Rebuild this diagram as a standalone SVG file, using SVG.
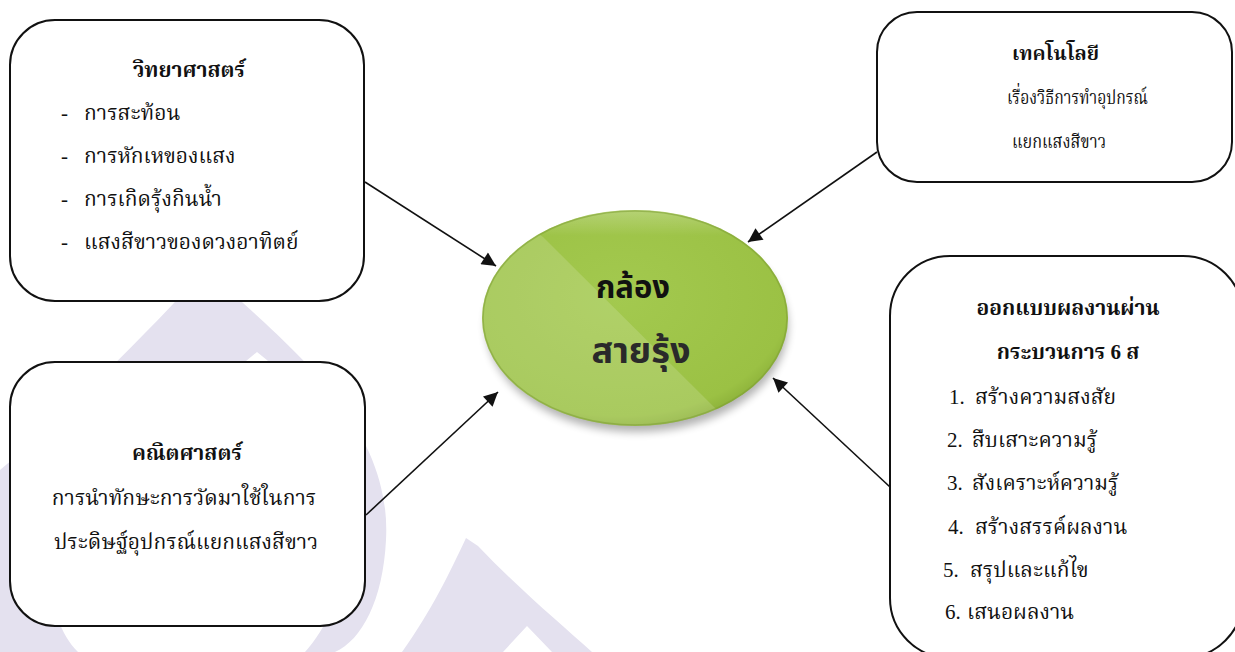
<svg xmlns="http://www.w3.org/2000/svg" width="1235" height="652" viewBox="0 0 1235 652">
<defs>
<style>
.box{fill:#fff;stroke:#111;stroke-width:2}
.t{font-family:"Liberation Serif","Noto Serif Thai","Noto Sans Thai",serif;font-size:21px;fill:#111}
.s{font-size:20px}
.b{font-weight:bold}
.c{text-anchor:middle}
.big{font-family:"Noto Sans Thai","Liberation Sans",sans-serif;font-weight:bold;text-anchor:middle}
.wm{fill:#e4e1ef;fill-rule:evenodd}
.con{stroke:#111;stroke-width:1.6;fill:none;marker-end:url(#ah)}
</style>
<marker id="ah" viewBox="0 0 10 10" refX="10" refY="5" markerUnits="userSpaceOnUse" markerWidth="16" markerHeight="14" orient="auto">
<path d="M0,0 L10,5 L0,10 Z" fill="#111"/>
</marker>
<radialGradient id="eg" cx="0.45" cy="0.4" r="0.65">
<stop offset="0" stop-color="#a3c94f"/>
<stop offset="0.85" stop-color="#9bc144"/>
<stop offset="1" stop-color="#86aa35"/>
</radialGradient>
<linearGradient id="hl" x1="0" y1="0" x2="0" y2="1">
<stop offset="0" stop-color="#fff" stop-opacity="0.25"/>
<stop offset="0.12" stop-color="#fff" stop-opacity="0"/>
</linearGradient>
<clipPath id="ec"><ellipse cx="635" cy="318" rx="153" ry="108"/></clipPath>
<filter id="sh" x="-20%" y="-20%" width="140%" height="150%">
<feGaussianBlur stdDeviation="4"/>
</filter>
</defs>
<rect width="1235" height="652" fill="#fff"/>
<g id="watermark">
<path class="wm" d="M203 272 L222 284 C300 355 392 430 386 540 C383 600 362 640 335 652 L0 652 L0 470 C60 420 150 330 203 272 Z M257 352 C318 400 354 460 350 535 C346 590 325 630 305 652 L78 652 C48 622 42 560 66 522 C120 455 200 400 257 352 Z"/>
<path class="wm" d="M466 538 L478 546 C520 590 562 625 592 652 L402 652 C432 610 450 572 466 538 Z M527 626 L552 652 L503 652 Z"/>
</g>
<g id="connectors">
<line class="con" x1="365" y1="182" x2="496" y2="266"/>
<line class="con" x1="366" y1="515" x2="498" y2="392"/>
<line class="con" x1="877" y1="152" x2="748" y2="242"/>
<line class="con" x1="890" y1="487" x2="773" y2="378"/>
</g>
<g id="center">
<ellipse cx="637" cy="326" rx="151" ry="106" fill="#000" opacity="0.3" filter="url(#sh)"/>
<ellipse cx="635" cy="318" rx="153" ry="108" fill="url(#eg)"/>
<polygon points="400,130 543,237 717,410 720,460 400,460" fill="#fff" opacity="0.15" clip-path="url(#ec)"/>
<ellipse cx="635" cy="318" rx="153" ry="108" fill="url(#hl)"/>
<ellipse cx="635" cy="318" rx="152" ry="107" fill="none" stroke="#7e9f34" stroke-width="1.5" opacity="0.55"/>
<text class="big" x="633" y="298" font-size="31" fill="#111">กล้อง</text>
<text class="big" x="641" y="363" font-size="36" fill="#2a2a2a">สายรุ้ง</text>
</g>
<g id="science">
<rect class="box" x="10" y="20" width="354" height="281" rx="45"/>
<text class="t b c" x="189" y="77">วิทยาศาสตร์</text>
<text class="t" x="61" y="120">-</text><text class="t" x="84" y="120">การสะท้อน</text>
<text class="t" x="61" y="163">-</text><text class="t" x="84" y="163">การหักเหของแสง</text>
<text class="t" x="61" y="206">-</text><text class="t" x="84" y="206">การเกิดรุ้งกินน้ำ</text>
<text class="t" x="61" y="249">-</text><text class="t" x="84" y="249">แสงสีขาวของดวงอาทิตย์</text>
</g>
<g id="math">
<rect class="box" x="10" y="362" width="355" height="264" rx="45"/>
<text class="t b c" x="187" y="460">คณิตศาสตร์</text>
<text class="t c" x="184" y="505">การนำทักษะการวัดมาใช้ในการ</text>
<text class="t c" x="186" y="549">ประดิษฐ์อุปกรณ์แยกแสงสีขาว</text>
</g>
<g id="technology">
<rect class="box" x="877" y="12" width="355" height="170" rx="40"/>
<text class="t b s" x="1012" y="60" textLength="87" lengthAdjust="spacingAndGlyphs">เทคโนโลยี</text>
<text class="t s" x="1007" y="104" textLength="141" lengthAdjust="spacingAndGlyphs">เรื่องวิธีการทำอุปกรณ์</text>
<text class="t s" x="1012" y="148" textLength="94" lengthAdjust="spacingAndGlyphs">แยกแสงสีขาว</text>
</g>
<g id="design">
<rect class="box" x="890" y="256" width="353" height="402" rx="60"/>
<text class="t b c" x="1068" y="315">ออกแบบผลงานผ่าน</text>
<text class="t b c" x="1068" y="359">กระบวนการ 6 ส</text>
<text class="t" x="949" y="404">1.</text><text class="t" x="975" y="404">สร้างความสงสัย</text>
<text class="t" x="947" y="447">2.</text><text class="t" x="972" y="447">สืบเสาะความรู้</text>
<text class="t" x="947" y="490">3.</text><text class="t" x="972" y="490">สังเคราะห์ความรู้</text>
<text class="t" x="948" y="534">4.</text><text class="t" x="975" y="534">สร้างสรรค์ผลงาน</text>
<text class="t" x="943" y="577">5.</text><text class="t" x="970" y="577">สรุปและแก้ไข</text>
<text class="t" x="945" y="619">6.</text><text class="t" x="967" y="619">เสนอผลงาน</text>
</g>
</svg>
